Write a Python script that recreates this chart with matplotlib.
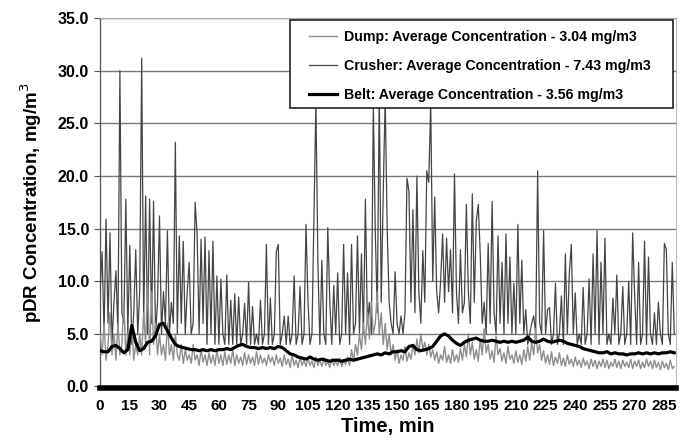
import numpy as np
import matplotlib
matplotlib.use("Agg")
import matplotlib.pyplot as plt
from matplotlib.patches import Rectangle

# ---------------- data ----------------
crusher = [
    9, 12.8, 5, 15.9, 6, 14.6, 4, 8, 11, 5, 30.0, 7, 6, 17.8, 5,
    13.4, 4, 7, 13.0, 5, 9, 31.2, 6, 18.1, 5, 17.8, 6, 17.6, 5, 8,
    16.2, 5, 9, 6, 14.8, 5, 8, 6, 23.2, 5, 14.3, 6, 13.8, 5, 9,
    11.8, 5, 6, 17.5, 14.5, 5, 14.0, 6, 14.2, 4, 12.9, 5, 13.8, 4, 10.5,
    4, 10.2, 5, 4, 10.6, 4, 8.2, 4, 8.8, 4, 8.5, 4, 5, 7.9, 4,
    9.9, 4, 7.6, 4, 5, 4, 8.2, 4, 5, 13.5, 4, 8.4, 4, 5, 12.8,
    13.5, 4, 5, 6.7, 4, 6.7, 4, 5, 10.5, 4, 5, 9.5, 4, 5, 15.4,
    8.1, 4, 5, 15.9, 27.0, 11.8, 4, 12.0, 5, 4, 15.1, 8.2, 4, 9.6, 5,
    10.8, 4, 5, 13.5, 5, 10.8, 4, 13.5, 5, 6, 14.3, 5, 12.6, 5, 17.8,
    6, 8, 5, 26.8, 14.6, 7, 28.0, 8, 18.3, 27.5, 15, 8, 6, 5, 10.9,
    6, 5, 6.7, 5, 7, 19.8, 18.5, 8, 16.8, 7, 20.0, 9, 6, 12.9, 8,
    20.5, 19.4, 27.0, 10, 18.0, 9, 7, 10, 14.5, 8, 14.1, 9, 13.0, 7, 20.2,
    9, 6, 13.0, 7, 8, 17.3, 9, 6, 18.3, 8, 15.7, 17.3, 12.6, 6, 8,
    5, 13.6, 6, 17.6, 7, 5, 14.3, 6, 11.8, 5, 14.5, 6, 12.3, 5, 9.8,
    5, 15.4, 6, 12.0, 5, 7.3, 4, 5, 6, 6.7, 5, 20.5, 6.1, 5, 14.8,
    5, 7.3, 7.5, 4, 5, 9.8, 4, 5, 8.6, 4, 12.6, 5, 10.8, 13.5, 5,
    8.9, 4, 5, 4, 9.4, 4, 5, 10.2, 4, 12.6, 5, 14.8, 4, 11.8, 5,
    14.1, 4, 5, 4, 8.4, 5, 10.6, 4, 5, 9.5, 4, 5, 10.0, 4, 14.6,
    8.6, 4, 11.8, 4, 5, 13.8, 4, 12.3, 5, 4, 7.0, 4, 8.0, 5, 4,
    13.6, 13.0, 5, 4, 11.8, 5,
]

dump = [
    5, 3, 6, 2.5, 4, 7, 3, 5, 2.5, 6, 3, 4, 8, 3, 5,
    3, 6, 2.5, 4, 3, 5, 3, 7, 4, 10, 3, 9, 4, 6, 3,
    5, 3, 4, 2.5, 6, 3, 4, 2.5, 5, 3, 2.5, 4, 2.2, 3.5, 2.5,
    3, 2.2, 4, 2.5, 3, 2, 3.5, 2.3, 3, 2, 3.2, 2.2, 3, 2, 3.5,
    2.2, 3, 2, 3.3, 2.1, 3, 2.2, 3.5, 2, 3, 2.2, 2.8, 2, 3.2, 2.1,
    3, 2.2, 2.8, 2, 3.3, 2.1, 3, 2.2, 2.7, 2, 3, 2.3, 2.8, 2, 3,
    2.2, 2.7, 1.9, 3, 2.1, 2.6, 1.8, 3, 2, 2.5, 1.8, 2.8, 2, 2.5, 1.9,
    2.7, 2, 2.4, 1.8, 2.8, 2, 2.5, 1.9, 2.7, 2, 2.4, 1.8, 2.6, 2, 2.4,
    2, 2.7, 1.9, 2.5, 2.1, 2.8, 2, 3.5, 2.4, 4, 3, 5, 3.5, 6, 4,
    7, 4.5, 8, 5, 6, 9, 5, 7, 4, 6, 3.5, 5, 3, 4, 2.5,
    3.5, 2.2, 3, 2.5, 3.8, 2.4, 3.2, 2.6, 4, 3, 4.5, 3.2, 5, 3.5, 4.2,
    3, 4, 2.8, 3.5, 2.5, 3.3, 2.2, 3, 2.5, 3.8, 2.3, 3, 2.2, 3.5, 2.4,
    3, 2.3, 3.6, 2.5, 4, 2.8, 5, 3, 4.2, 2.6, 3.5, 2.4, 4.5, 3, 5.5,
    3.2, 4, 2.6, 3.4, 2.3, 4.8, 3, 3.6, 2.4, 3.2, 2.2, 3.8, 2.6, 3, 2.2,
    3.4, 2.3, 3, 2.1, 3.5, 2.4, 3.8, 2.5, 4.2, 3, 5.5, 3.2, 4, 2.5, 3.4,
    2.2, 3, 2.1, 3.3, 2, 2.8, 2.2, 3.2, 2, 2.7, 1.9, 3, 2.1, 2.6, 1.9,
    2.8, 2, 2.5, 1.8, 2.7, 2, 2.4, 1.7, 2.6, 1.9, 2.5, 1.7, 2.4, 1.9, 2.6,
    1.8, 2.5, 1.7, 2.3, 1.9, 2.6, 1.8, 2.4, 1.7, 2.5, 1.9, 2.3, 1.8, 2.6, 1.7,
    2.4, 1.9, 2.5, 1.7, 2.3, 1.8, 2.6, 1.9, 2.4, 1.7, 2.5, 1.8, 2.3, 1.6, 2.4,
    1.8, 2.2, 1.6, 2.5, 1.7, 1.9,
]

belt = [
    3.4, 3.3, 3.3, 3.8, 3.9, 3.6, 3.2, 3.5, 5.8, 4.2, 3.4, 3.6, 4.2, 4.3, 4.8,
    5.9, 6.0, 5.3, 4.6, 4.0, 3.8, 3.7, 3.6, 3.5, 3.5, 3.4, 3.5, 3.4, 3.5, 3.4,
    3.5, 3.5, 3.6, 3.5, 3.7, 3.9, 4.0, 3.8, 3.7, 3.7, 3.6, 3.7, 3.6, 3.7, 3.6,
    3.8, 3.7, 3.4, 3.1, 3.0, 2.8, 2.7, 2.6, 2.8, 2.6, 2.5, 2.6, 2.5, 2.4, 2.5,
    2.5, 2.4, 2.5, 2.6, 2.5, 2.6, 2.7, 2.8, 2.9, 3.0, 3.1, 3.0, 3.2, 3.1, 3.3,
    3.3, 3.4, 3.3, 3.8, 3.9, 3.5, 3.4, 3.5, 3.6, 3.8, 4.3, 4.8, 5.0, 4.8, 4.4,
    4.1, 3.9, 4.2, 4.4, 4.5, 4.6, 4.4, 4.3, 4.3, 4.4, 4.3, 4.2, 4.3, 4.2, 4.3,
    4.2, 4.3, 4.4, 4.7, 4.3, 4.2, 4.3, 4.5, 4.3, 4.2, 4.3, 4.4, 4.3, 4.1, 4.0,
    3.9, 3.8, 3.6, 3.5, 3.4, 3.3, 3.2, 3.2, 3.3, 3.1, 3.2, 3.1, 3.1, 3.0, 3.1,
    3.1, 3.2, 3.1, 3.2, 3.1, 3.2, 3.1, 3.2, 3.2, 3.3, 3.2,
]

t_minute = np.arange(len(crusher))          # one reading per minute
t_belt = np.arange(len(belt)) * 2           # one reading per two minutes

labels = [
    "Dump: Average Concentration - 3.04 mg/m3",
    "Crusher: Average Concentration - 7.43 mg/m3",
    "Belt: Average Concentration - 3.56 mg/m3",
]
x_ticks = list(range(0, 286, 15))
y_ticks = [0, 5, 10, 15, 20, 25, 30, 35]

# ---------------- figure ----------------
plt.rcParams['font.family'] = ['Liberation Sans', 'DejaVu Sans']
W, H = 681, 443
fig = plt.figure(figsize=(W / 100, H / 100), dpi=100)
ax = fig.add_axes([0.147, 0.124, 0.846, 0.835])

l_crusher, = ax.plot(t_minute, crusher, color='#454545', lw=0.9, zorder=3)
l_dump, = ax.plot(t_minute[:len(dump)], dump, color='#8e8e8e', lw=1.0, zorder=4)
l_belt, = ax.plot(t_belt, belt, color='black', lw=2.3, zorder=5)

ax.set_xlim(0, 291)
ax.set_ylim(-0.15, 35)
ax.set_yticks(y_ticks)
ax.set_yticklabels([f"{v:.1f}" for v in y_ticks], fontsize=11.5, fontweight='bold')
ax.set_xticks(x_ticks)
ax.set_xticklabels([str(v) for v in x_ticks], fontsize=11, fontweight='bold')
ax.tick_params(axis='x', length=0, pad=8)
ax.tick_params(axis='y', length=4, width=0.8, color='#555555', pad=4)

ax.grid(axis='y', color='#7a7a7a', lw=1.0, zorder=1)
ax.set_axisbelow(True)

ax.spines['bottom'].set_linewidth(4)
ax.spines['bottom'].set_color('black')
ax.spines['left'].set_color('#555555')
ax.spines['left'].set_linewidth(0.9)
ax.spines['right'].set_color('#bbbbbb')
ax.spines['top'].set_color('#aaaaaa')

ax.set_ylabel("pDR Concentration, mg/m$^3$", fontsize=13.5, fontweight='bold', labelpad=10)
ax.set_xlabel("Time, min", fontsize=14.5, fontweight='bold', labelpad=3)

# legend box (white, dark frame) drawn above the data
box = Rectangle((290 / W, 1 - 108 / H), (673 - 290) / W, 88 / H,
                transform=fig.transFigure, facecolor='white',
                edgecolor='#222222', lw=1.2, zorder=4)
fig.patches.append(box)

leg = fig.legend([l_dump, l_crusher, l_belt], labels,
                 loc='upper left', bbox_to_anchor=(309 / W, 1 - 30 / H),
                 bbox_transform=fig.transFigure,
                 prop={'weight': 'bold', 'size': 10.2},
                 frameon=False, handlelength=2.0, handletextpad=0.45,
                 labelspacing=1.05, borderpad=0.0, borderaxespad=0.0)
leg.set_zorder(6)

fig.savefig("out.png", dpi=100)
